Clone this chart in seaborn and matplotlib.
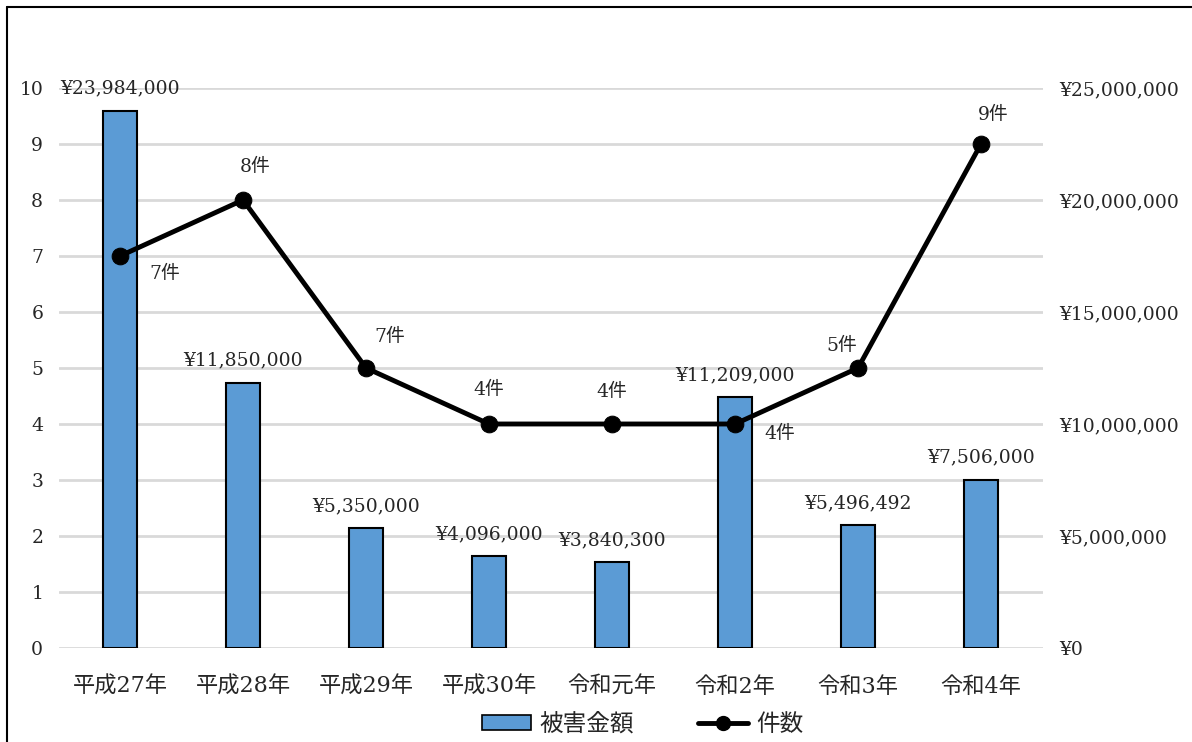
import numpy as np
import pandas as pd
import matplotlib
matplotlib.use("Agg")
import matplotlib.pyplot as plt
from matplotlib.lines import Line2D
from matplotlib.patches import Patch
from matplotlib.ticker import MultipleLocator, FuncFormatter
import seaborn as sns

# 年度ごとの被害金額と件数
years = ["平成27年", "平成28年", "平成29年", "平成30年", "令和元年", "令和2年", "令和3年", "令和4年"]
damage_yen = [23984000, 11850000, 5350000, 4096000, 3840300, 11209000, 5496492, 7506000]
counts = [7, 8, 5, 4, 4, 4, 5, 9]
count_labels = ["7件", "8件", "7件", "4件", "4件", "4件", "5件", "9件"]
# 件数ラベルの表示位置（点からのずれ、ピクセル）
count_label_offsets = [(45, -18), (12, 33), (24, 31), (0, 34), (0, 32), (45, -10), (-16, 22), (12, 29)]

sns.set_theme(style="white")
plt.rcParams["font.family"] = ["DejaVu Serif", "Noto Sans CJK JP"]
plt.rcParams["font.size"] = 13.5

BAR_COLOR = "#5b9bd5"
GRID_COLOR = "#d9d9d9"

df = pd.DataFrame({"年": years, "被害金額": damage_yen, "件数": counts})
df["pos"] = np.arange(len(years))

fig = plt.figure(figsize=(11.92, 7.42), dpi=100)
ax_yen = fig.add_axes([0.0491, 0.1267, 0.8255, 0.7547])
ax_cnt = ax_yen.twinx()

# 棒グラフ（被害金額、右軸）
sns.barplot(data=df, x="年", y="被害金額", ax=ax_yen, color=BAR_COLOR,
            width=0.28, edgecolor="black", linewidth=1.5, saturation=1, zorder=3)
ax_yen.set_ylim(0, 25_000_000)
ax_yen.yaxis.set_major_locator(MultipleLocator(5_000_000))
ax_yen.yaxis.set_minor_locator(MultipleLocator(2_500_000))
ax_yen.yaxis.set_major_formatter(FuncFormatter(lambda v, p: f"¥{int(v):,}"))
ax_yen.yaxis.tick_right()
ax_yen.yaxis.set_label_position("right")
ax_yen.grid(True, which="both", axis="y", color=GRID_COLOR, linewidth=2, zorder=0)
ax_yen.set_axisbelow(True)
ax_yen.tick_params(axis="y", which="both", length=0, pad=12, labelsize=13.5)
ax_yen.tick_params(axis="x", length=0, pad=20, labelsize=16)
ax_yen.set_xlabel("")
ax_yen.set_ylabel("")
ax_yen.set_xlim(-0.5, len(years) - 0.5)

for bar, val in zip(ax_yen.patches, damage_yen):
    ax_yen.annotate(f"¥{val:,}", (bar.get_x() + bar.get_width() / 2, val),
                    xytext=(0, 22), textcoords="offset pixels",
                    ha="center", va="center", fontsize=13.5)

# 折れ線（件数、左軸）
sns.lineplot(data=df, x="pos", y="件数", ax=ax_cnt, color="black", linewidth=3.5,
             marker="o", markersize=12, markeredgecolor="black", zorder=5)
ax_cnt.set_ylim(0, 10)
ax_cnt.yaxis.set_major_locator(MultipleLocator(1))
ax_cnt.yaxis.tick_left()
ax_cnt.yaxis.set_label_position("left")
ax_cnt.tick_params(axis="y", length=0, pad=11, labelsize=13.5)
ax_cnt.set_ylabel("")
ax_cnt.set_xlabel("")
ax_cnt.set_xlim(-0.5, len(years) - 0.5)

for x, y, lab, (dx, dy) in zip(df["pos"], counts, count_labels, count_label_offsets):
    ax_cnt.annotate(lab, (x, y), xytext=(dx, dy), textcoords="offset pixels",
                    ha="center", va="center", fontsize=13.5)

for a in (ax_yen, ax_cnt):
    for s in a.spines.values():
        s.set_visible(False)

# 凡例
handles = [
    Patch(facecolor=BAR_COLOR, edgecolor="black", linewidth=1.2, label="被害金額"),
    Line2D([], [], color="black", linewidth=3.5, marker="o", markersize=10, label="件数"),
]
fig.legend(handles=handles, loc="center", bbox_to_anchor=(0.539, 0.024), ncol=2,
           frameon=False, fontsize=17, handlelength=2.1, handleheight=0.6,
           columnspacing=2.7, handletextpad=0.35)

# 外枠
W, H = 1192, 742
fig.add_artist(Line2D([7 / W, 7 / W], [0, 1 - 7 / H], color="black", linewidth=1.5,
                      transform=fig.transFigure))
fig.add_artist(Line2D([7 / W, 1], [1 - 7 / H, 1 - 7 / H], color="black", linewidth=1.5,
                      transform=fig.transFigure))

fig.savefig("out.png", dpi=100, facecolor="white")
